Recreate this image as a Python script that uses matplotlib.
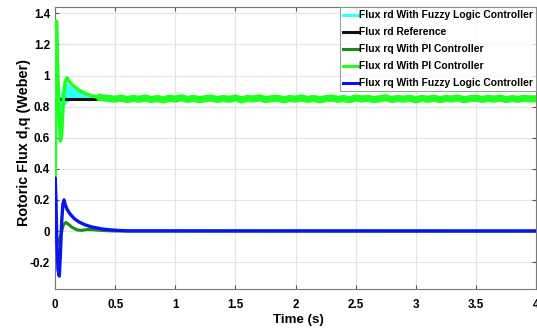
"""Rotor flux d/q response: fuzzy logic vs PI controller."""

import numpy as np
import matplotlib

matplotlib.use("Agg")
import matplotlib.pyplot as plt

plt.rcParams["font.family"] = ["Liberation Sans", "DejaVu Sans"]
plt.rcParams["font.weight"] = "bold"

# Flux rd with fuzzy logic controller: fast switching band (upper / lower envelope)
t_rd_fuzzy = [0.035, 0.045, 0.06, 0.08, 0.1, 0.13, 0.17, 0.22, 0.27, 0.32, 0.37, 0.42]
rd_fuzzy_hi = [0.85, 0.88, 0.93, 0.96, 0.95, 0.93, 0.91, 0.89, 0.875, 0.865, 0.858, 0.852]
rd_fuzzy_lo = [0.72, 0.76, 0.79, 0.81, 0.83, 0.84, 0.843, 0.846, 0.848, 0.85, 0.85, 0.85]

# Flux rd reference
t_ref = [0.0, 4.0]
rd_ref = [0.85, 0.85]

# Flux rq with PI controller
t_rq_pi = [0.0, 0.01, 0.02, 0.033, 0.05, 0.07, 0.09, 0.11, 0.14, 0.18, 0.22, 0.27, 0.32, 0.4, 0.5, 4.0]
rq_pi = [0.0, -0.03, -0.07, -0.08, -0.02, 0.04, 0.055, 0.045, 0.025, 0.008, 0.004, 0.01, 0.008, 0.003, 0.0, 0.0]

# Flux rd with PI controller: transient then noisy steady state
t_rd_pi = [0.0, 0.002, 0.012, 0.02, 0.03, 0.045, 0.055, 0.07, 0.085, 0.1, 0.12, 0.15, 0.2,
           0.25, 0.3, 0.35, 0.4, 0.45]
rd_pi = [0.0, 0.35, 1.35, 1.1, 0.85, 0.58, 0.62, 0.85, 0.96, 0.985, 0.96, 0.935, 0.905,
         0.885, 0.87, 0.862, 0.856, 0.852]
t_rd_pi_ss = np.linspace(0.5, 4.0, 71)
rd_pi_ss = [0.848, 0.855, 0.844, 0.853, 0.847, 0.856, 0.845, 0.852, 0.843, 0.854, 0.848, 0.857,
            0.846, 0.853, 0.844, 0.851, 0.855, 0.845, 0.852, 0.847, 0.856, 0.843, 0.853, 0.849,
            0.857, 0.845, 0.851, 0.854, 0.844, 0.852, 0.848, 0.856, 0.846, 0.853, 0.843, 0.851,
            0.855, 0.847, 0.852, 0.844, 0.856, 0.849, 0.853, 0.845, 0.851, 0.857, 0.846, 0.852,
            0.848, 0.854, 0.843, 0.853, 0.847, 0.855, 0.845, 0.852, 0.849, 0.856, 0.844, 0.851,
            0.854, 0.846, 0.853, 0.848, 0.855, 0.845, 0.852, 0.847, 0.854, 0.849, 0.851]

# Flux rq with fuzzy logic controller
t_rq_fuzzy = [0.0, 0.002, 0.008, 0.015, 0.025, 0.036, 0.045, 0.055, 0.065, 0.075, 0.085, 0.1,
              0.125, 0.16, 0.2, 0.25, 0.3, 0.4, 0.5, 0.6, 4.0]
rq_fuzzy = [0.0, 0.34, 0.2, -0.05, -0.25, -0.29, -0.15, 0.05, 0.17, 0.2, 0.17, 0.14,
            0.11, 0.08, 0.058, 0.04, 0.027, 0.012, 0.005, 0.001, 0.0]

fig = plt.figure(figsize=(5.37, 3.34), dpi=100)
ax = fig.add_axes([0.1024, 0.1347, 0.896, 0.844])

ax.fill_between(t_rd_fuzzy, rd_fuzzy_lo, rd_fuzzy_hi, color="#33ffff", lw=0,
                label="_nolegend_", zorder=2)
ax.plot([], [], color="#33ffff", lw=2, label="Flux rd With Fuzzy Logic Controller")
ax.plot(t_ref, rd_ref, color="#111111", lw=2.2, label="Flux rd Reference", zorder=3)
ax.plot(t_rq_pi, rq_pi, color="#1a8c1a", lw=2.2, label="Flux rq With PI Controller", zorder=3)
ax.plot(list(t_rd_pi) + list(t_rd_pi_ss), list(rd_pi) + rd_pi_ss, color="#22ff22", lw=2.6,
        zorder=4)
ax.plot(t_rd_pi[-3:] + list(t_rd_pi_ss), rd_pi[-3:] + rd_pi_ss, color="#22ff22", lw=5.2,
        solid_capstyle="butt", zorder=4)
ax.plot([], [], color="#22ff22", lw=2, label="Flux rd With PI Controller")
ax.plot(t_rq_fuzzy, rq_fuzzy, color="#0a14f0", lw=2.4, label="Flux rq With Fuzzy Logic Controller",
        zorder=5)

ax.set_xlim(0, 4)
ax.set_ylim(-0.373, 1.44)
ax.set_xticks(np.arange(0, 4.01, 0.5))
ax.set_xticklabels(["0", "0.5", "1", "1.5", "2", "2.5", "3", "3.5", "4"])
ax.set_yticks([-0.2, 0, 0.2, 0.4, 0.6, 0.8, 1.0, 1.2, 1.4])
ax.set_yticklabels(["-0.2", "0", "0.2", "0.4", "0.6", "0.8", "1", "1.2", "1.4"])
ax.tick_params(labelsize=8.4, direction="in", top=True, right=True, length=3, color="#555555")
ax.tick_params(axis="x", pad=7.5)
ax.tick_params(axis="y", pad=3.5)
ax.grid(True, color="#e4e4e4", lw=0.8)
for s in ax.spines.values():
    s.set_color("#777777")
    s.set_linewidth(0.8)

ax.set_xlabel("Time (s)", fontsize=9.6, fontweight="bold")
ax.xaxis.set_label_coords(0.506, -0.09)
ax.set_ylabel("Rotoric Flux d,q (Weber)", fontsize=10.4, fontweight="bold")
ax.yaxis.set_label_coords(-0.05, 0.52)

leg = ax.legend(loc="upper right", fontsize=7.4, frameon=True, fancybox=False,
                handlelength=1.45, handletextpad=0.12, borderpad=0.3, labelspacing=0.68,
                borderaxespad=0.0)
leg.get_frame().set_edgecolor("#888888")
leg.get_frame().set_linewidth(0.8)
for txt in leg.get_texts():
    txt.set_fontweight("bold")
for line in leg.get_lines():
    line.set_linewidth(2.2)

fig.savefig("out.png", dpi=100)
